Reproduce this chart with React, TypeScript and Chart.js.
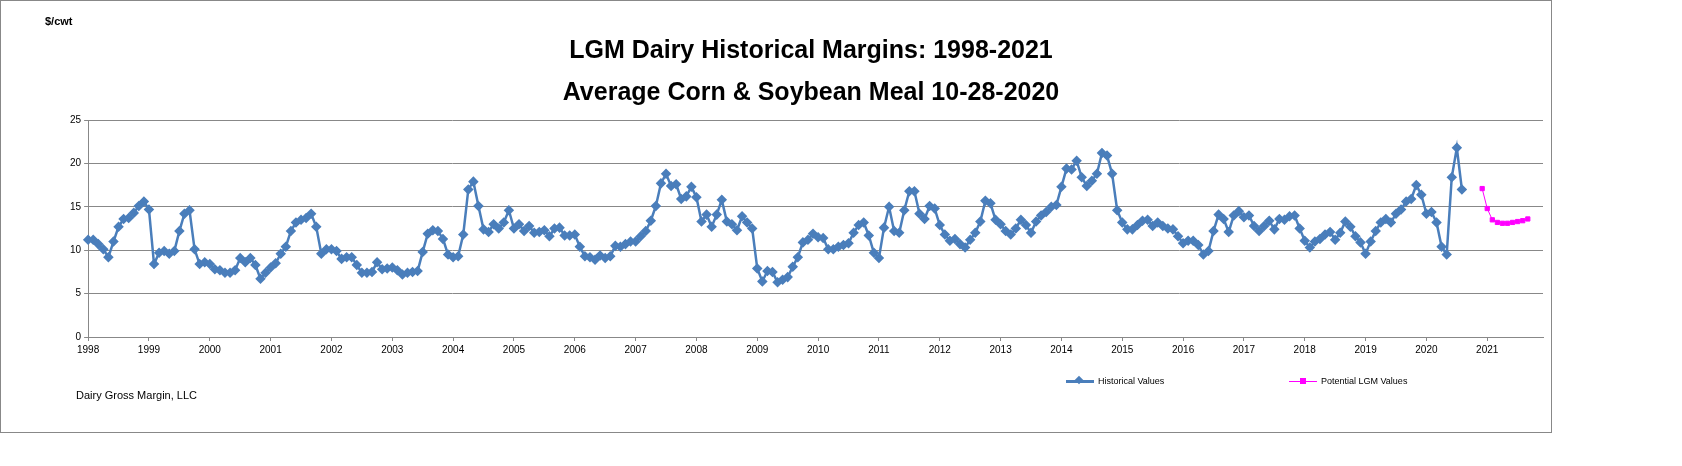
import React, { useEffect, useRef } from "react";
import { Chart, registerables } from "chart.js";
Chart.register(...registerables);

const historicalValues: number[] = [
  11.2, 11.2, 10.7, 10.1, 9.2, 11.0, 12.7, 13.6, 13.7, 14.3, 15.1, 15.6,
  14.7, 8.4, 9.7, 9.9, 9.6, 9.9, 12.2, 14.2, 14.6, 10.1, 8.4, 8.6,
  8.4, 7.8, 7.7, 7.4, 7.4, 7.7, 9.1, 8.6, 9.1, 8.3, 6.7, 7.4,
  8.0, 8.5, 9.6, 10.4, 12.2, 13.2, 13.5, 13.7, 14.2, 12.7, 9.6, 10.1,
  10.1, 9.9, 9.0, 9.2, 9.2, 8.3, 7.4, 7.4, 7.5, 8.6, 7.8, 7.9,
  8.0, 7.7, 7.2, 7.4, 7.5, 7.6, 9.8,
  11.9, 12.3, 12.2, 11.3, 9.5, 9.2, 9.3, 11.8, 17.0, 17.9, 15.1, 12.4,
  12.1, 13.0, 12.5, 13.2, 14.6, 12.5, 13.0, 12.2, 12.8, 12.0, 12.1, 12.3,
  11.6, 12.5, 12.6, 11.7, 11.7, 11.8, 10.4, 9.3, 9.2, 8.9, 9.4, 9.1,
  9.3, 10.5, 10.4, 10.7, 11.0, 11.0, 11.6, 12.2, 13.4, 15.1, 17.7, 18.8,
  17.4, 17.6, 15.9, 16.2, 17.3, 16.1, 13.3, 14.1, 12.7, 14.1, 15.8, 13.3,
  13.0, 12.3, 13.9, 13.2, 12.5, 7.9,
  6.4, 7.6, 7.5, 6.3, 6.6, 6.9, 8.1, 9.2, 10.9, 11.2, 11.9, 11.5,
  11.4, 10.1, 10.1, 10.4, 10.6, 10.8, 12.0, 12.9, 13.2, 11.7, 9.7, 9.1,
  12.6, 15.0, 12.2, 12.0, 14.6, 16.8, 16.8, 14.2, 13.6, 15.1, 14.8, 12.9,
  11.8, 11.1, 11.3, 10.7, 10.3, 11.2, 12.0, 13.3, 15.7, 15.4, 13.5, 13.0,
  12.2, 11.8, 12.5, 13.5, 12.9, 12.0, 13.3, 14.0, 14.4, 15.0, 15.2, 17.3,
  19.4, 19.3, 20.3, 18.4, 17.4, 18.0, 18.8,
  21.2, 20.9, 18.8, 14.6, 13.2, 12.4, 12.4, 12.9, 13.4, 13.5, 12.8, 13.2,
  12.8, 12.5, 12.4, 11.6, 10.8, 11.1, 11.1, 10.6, 9.5, 9.9, 12.2, 14.1,
  13.6, 12.1, 14.0, 14.5, 13.8, 14.0, 12.8, 12.2, 12.8, 13.4, 12.4, 13.6,
  13.5, 13.9, 14.0, 12.5, 11.1, 10.3, 11.0, 11.3, 11.8, 12.1, 11.2, 12.0,
  13.3, 12.7, 11.6, 10.9, 9.6, 11.0, 12.2, 13.2, 13.6, 13.2, 14.2, 14.7,
  15.6, 15.9, 17.5, 16.4, 14.2, 14.4, 13.2, 10.4, 9.5, 18.4, 21.8, 17.0,
];
const potentialValues: number[] = [17.1, 14.8, 13.5, 13.2, 13.1, 13.1, 13.2, 13.3, 13.4, 13.6];
const potentialGap = 3;
const totalMonths = 288;
const firstYear = 1998;

export default function App() {
  const ref = useRef<HTMLCanvasElement>(null);
  useEffect(() => {
    document.body.style.margin = "0";
    const labels = Array.from({ length: totalMonths }, (_, i) => String(firstYear + Math.floor(i / 12)));
    const potStart = historicalValues.length + potentialGap;
    const pot = Array.from({ length: totalMonths }, (_, i) =>
      i >= potStart && i < potStart + potentialValues.length ? potentialValues[i - potStart] : null
    );
    const chart = new Chart(ref.current!, {
      type: "line",
      data: {
        labels,
        datasets: [
          {
            label: "Historical Values",
            data: historicalValues,
            borderColor: "#4a7ebb",
            backgroundColor: "#4a7ebb",
            borderWidth: 2.5,
            pointStyle: "rectRot",
            pointRadius: 3.5,
            tension: 0,
          },
          {
            label: "Potential LGM Values",
            data: pot,
            borderColor: "#ff00ff",
            backgroundColor: "#ff00ff",
            borderWidth: 1,
            pointStyle: "rect",
            pointRadius: 3,
            spanGaps: false,
          },
        ],
      },
      options: {
        animation: false,
        responsive: false,
        layout: { padding: { left: 66, right: 8, top: 119, bottom: 73 } },
        plugins: { legend: { display: false }, tooltip: { enabled: false } },
        scales: {
          x: {
            offset: false,
            grid: { display: true, drawOnChartArea: false, color: "#888", tickLength: 4 },
            border: { color: "#888" },
            ticks: {
              autoSkip: false,
              maxRotation: 0,
              color: "#000",
              font: { family: "Liberation Sans", size: 10 },
              callback: (_v, i) => (i % 12 === 0 ? labels[i] : null),
            },
          },
          y: {
            min: 0,
            max: 25,
            ticks: { stepSize: 5, color: "#000", font: { family: "Liberation Sans", size: 10 } },
            grid: { color: "#888", tickLength: 4 },
            border: { color: "#888" },
          },
        },
      },
    });
    return () => chart.destroy();
  }, []);
  const txt: React.CSSProperties = { position: "absolute", fontFamily: "Liberation Sans", color: "#000" };
  return (
    <div style={{ position: "relative", width: 1552, height: 433, border: "1px solid #888", boxSizing: "border-box", background: "#fff" }}>
      <canvas ref={ref} width={1550} height={431} style={{ position: "absolute", left: 0, top: 0 }} />
      <div style={{ ...txt, left: 44, top: 14, fontSize: 11, fontWeight: "bold" }}>$/cwt</div>
      <div style={{ ...txt, left: 0, width: 1620, top: 27, textAlign: "center", fontSize: 25, fontWeight: "bold", lineHeight: "42px" }}>
        LGM Dairy Historical Margins: 1998-2021
        <br />
        Average Corn &amp; Soybean Meal 10-28-2020
      </div>
      <div style={{ ...txt, left: 75, top: 388, fontSize: 11 }}>Dairy Gross Margin, LLC</div>
      <div style={{ ...txt, left: 1065, top: 375, fontSize: 9, display: "flex", alignItems: "center" }}>
        <span style={{ display: "inline-block", width: 28, height: 3, background: "#4a7ebb", marginRight: 4, position: "relative" }}>
          <span style={{ position: "absolute", left: 10, top: -3, width: 6, height: 6, background: "#4a7ebb", transform: "rotate(45deg)" }} />
        </span>
        Historical Values
      </div>
      <div style={{ ...txt, left: 1288, top: 375, fontSize: 9, display: "flex", alignItems: "center" }}>
        <span style={{ display: "inline-block", width: 28, height: 1, background: "#ff00ff", marginRight: 4, position: "relative" }}>
          <span style={{ position: "absolute", left: 11, top: -3, width: 6, height: 6, background: "#ff00ff" }} />
        </span>
        Potential LGM Values
      </div>
    </div>
  );
}
